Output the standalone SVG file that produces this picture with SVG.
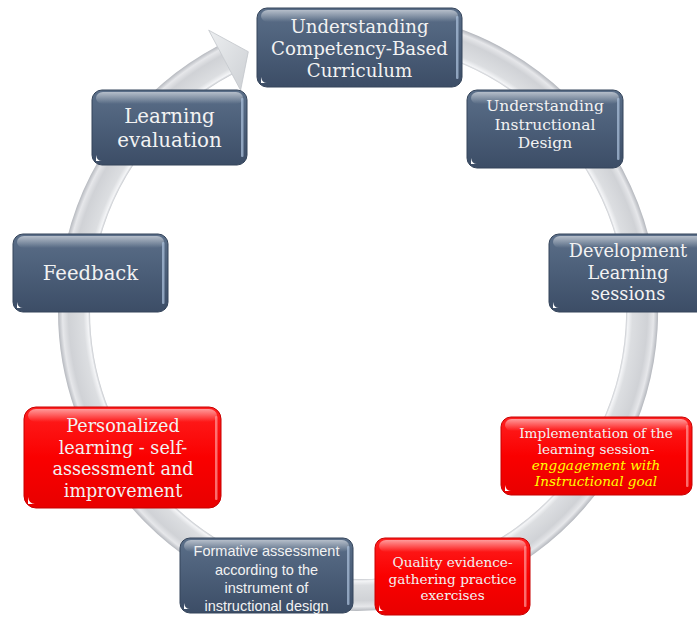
<svg xmlns="http://www.w3.org/2000/svg" width="697" height="617" viewBox="0 0 697 617">
<defs>
<radialGradient id="ringG" gradientUnits="userSpaceOnUse" cx="358" cy="311" r="300">
<stop offset="0.893" stop-color="#c4c7cc"/>
<stop offset="0.9" stop-color="#f4f5f7"/>
<stop offset="0.915" stop-color="#dcdee1"/>
<stop offset="0.965" stop-color="#d0d2d6"/>
<stop offset="0.985" stop-color="#e6e7ea"/>
<stop offset="1" stop-color="#b5b8be"/>
</radialGradient>
<linearGradient id="headG" x1="0" y1="0" x2="1" y2="1">
<stop offset="0" stop-color="#eceef0"/>
<stop offset="1" stop-color="#cdd0d4"/>
</linearGradient>
<linearGradient id="darkG" x1="0" y1="0" x2="0" y2="1">
<stop offset="0" stop-color="#5b6f89"/>
<stop offset="0.5" stop-color="#4b5e78"/>
<stop offset="1" stop-color="#3c4d66"/>
</linearGradient>
<linearGradient id="redG" x1="0" y1="0" x2="0" y2="1">
<stop offset="0" stop-color="#ff2020"/>
<stop offset="0.5" stop-color="#fa0000"/>
<stop offset="1" stop-color="#e80000"/>
</linearGradient>
<linearGradient id="glossG" x1="0" y1="0" x2="0" y2="1">
<stop offset="0" stop-color="#ffffff" stop-opacity="0.55"/>
<stop offset="1" stop-color="#ffffff" stop-opacity="0"/>
</linearGradient>
</defs>
<style>
.dark{fill:url(#darkG);stroke:#34445a;stroke-width:1}
.red{fill:url(#redG);stroke:#c80000;stroke-width:1}
.gloss{fill:url(#glossG)}
.edgeD{fill:#a8bdd8;opacity:0.75}
.edgeR{fill:#ff9a9a;opacity:0.7}
.glint{fill:#ffffff}
text{font-family:"DejaVu Serif","Liberation Serif",serif;fill:#f2f2f2;text-anchor:middle}
.sans{font-family:"Liberation Sans",Arial,sans-serif}
.yel{fill:#ffff00;font-style:italic}
</style>

<g id="connectors">
<path d="M 417.05 33.2 A 284 284 0 1 1 224.7 60.3" fill="none" stroke="url(#ringG)" stroke-width="32"/>
<path d="M 208.7 30.2 L 248.3 51.7 L 240.6 90.3 Z" fill="url(#headG)" stroke="#c2c5ca" stroke-width="0.8"/>
</g>

<g id="n1">
<rect class="dark" x="257" y="8" width="205" height="79" rx="10"/>
<rect class="gloss" x="261" y="10" width="197" height="12" rx="7"/>
<rect class="edgeD" x="456" y="16" width="2.5" height="63" rx="1"/>
<path class="glint" d="M261 83 L261 77 Q262 83 267 83 Z"/>
<text font-size="18.2"><tspan x="359.5" y="33">Understanding</tspan><tspan x="359.5" y="55">Competency-Based</tspan><tspan x="359.5" y="77">Curriculum</tspan></text>
</g>

<g id="n2">
<rect class="dark" x="467" y="90" width="156" height="78" rx="10"/>
<rect class="gloss" x="471" y="92" width="148" height="12" rx="7"/>
<rect class="edgeD" x="617" y="98" width="2.5" height="62" rx="1"/>
<path class="glint" d="M471 164 L471 158 Q472 164 477 164 Z"/>
<text font-size="15.5"><tspan x="545" y="111">Understanding</tspan><tspan x="545" y="129.5">Instructional</tspan><tspan x="545" y="148">Design</tspan></text>
</g>

<g id="n3">
<rect class="dark" x="549" y="234" width="160" height="78" rx="10"/>
<rect class="gloss" x="553" y="236" width="152" height="12" rx="7"/>
<path class="glint" d="M553 308 L553 302 Q554 308 559 308 Z"/>
<text font-size="17.7"><tspan x="628" y="257">Development</tspan><tspan x="628" y="278.5">Learning</tspan><tspan x="628" y="300">sessions</tspan></text>
</g>

<g id="n4">
<rect class="red" x="501" y="417" width="191" height="78" rx="10"/>
<rect class="gloss" x="505" y="419" width="183" height="12" rx="7"/>
<rect class="edgeR" x="686" y="425" width="2.5" height="62" rx="1"/>
<path class="glint" d="M505 491 L505 485 Q506 491 511 491 Z"/>
<text font-size="13.6"><tspan x="596" y="438">Implementation of the</tspan><tspan x="596" y="454">learning session-</tspan><tspan class="yel" x="596" y="470">enggagement with</tspan><tspan class="yel" x="596" y="486">Instructional goal</tspan></text>
</g>

<g id="n5">
<rect class="red" x="375" y="538" width="155" height="77" rx="10"/>
<rect class="gloss" x="379" y="540" width="147" height="12" rx="7"/>
<rect class="edgeR" x="524" y="546" width="2.5" height="61" rx="1"/>
<path class="glint" d="M379 611 L379 605 Q380 611 385 611 Z"/>
<text font-size="13.6"><tspan x="452.5" y="567">Quality evidence-</tspan><tspan x="452.5" y="583.5">gathering practice</tspan><tspan x="452.5" y="600">exercises</tspan></text>
</g>

<g id="n6">
<rect class="dark" x="180" y="538" width="173" height="75" rx="10"/>
<rect class="gloss" x="184" y="540" width="165" height="12" rx="7"/>
<rect class="edgeD" x="347" y="546" width="2.5" height="59" rx="1"/>
<path class="glint" d="M184 609 L184 603 Q185 609 190 609 Z"/>
<text class="sans" font-size="14.5"><tspan x="266.5" y="556">Formative assessment</tspan><tspan x="266.5" y="574.5">according to the</tspan><tspan x="266.5" y="593">instrument of</tspan><tspan x="266.5" y="611">instructional design</tspan></text>
</g>

<g id="n7">
<rect class="red" x="24" y="407" width="197" height="101" rx="12"/>
<rect class="gloss" x="28" y="409" width="189" height="13" rx="8"/>
<rect class="edgeR" x="215" y="416" width="2.5" height="84" rx="1"/>
<path class="glint" d="M28 504 L28 497 Q29 504 35 504 Z"/>
<text font-size="17.6"><tspan x="123" y="432">Personalized</tspan><tspan x="123" y="453.5">learning - self-</tspan><tspan x="123" y="475">assessment and</tspan><tspan x="123" y="496.5">improvement</tspan></text>
</g>

<g id="n8">
<rect class="dark" x="13" y="234" width="155" height="78" rx="10"/>
<rect class="gloss" x="17" y="236" width="147" height="12" rx="7"/>
<rect class="edgeD" x="162" y="242" width="2.5" height="62" rx="1"/>
<path class="glint" d="M17 308 L17 302 Q18 308 23 308 Z"/>
<text font-size="19.6"><tspan x="90.5" y="280">Feedback</tspan></text>
</g>

<g id="n9">
<rect class="dark" x="92" y="90" width="155" height="75" rx="10"/>
<rect class="gloss" x="96" y="92" width="147" height="12" rx="7"/>
<rect class="edgeD" x="241" y="98" width="2.5" height="59" rx="1"/>
<path class="glint" d="M96 161 L96 155 Q97 161 102 161 Z"/>
<text font-size="19.8"><tspan x="169.5" y="123">Learning</tspan><tspan x="169.5" y="147">evaluation</tspan></text>
</g>
</svg>
